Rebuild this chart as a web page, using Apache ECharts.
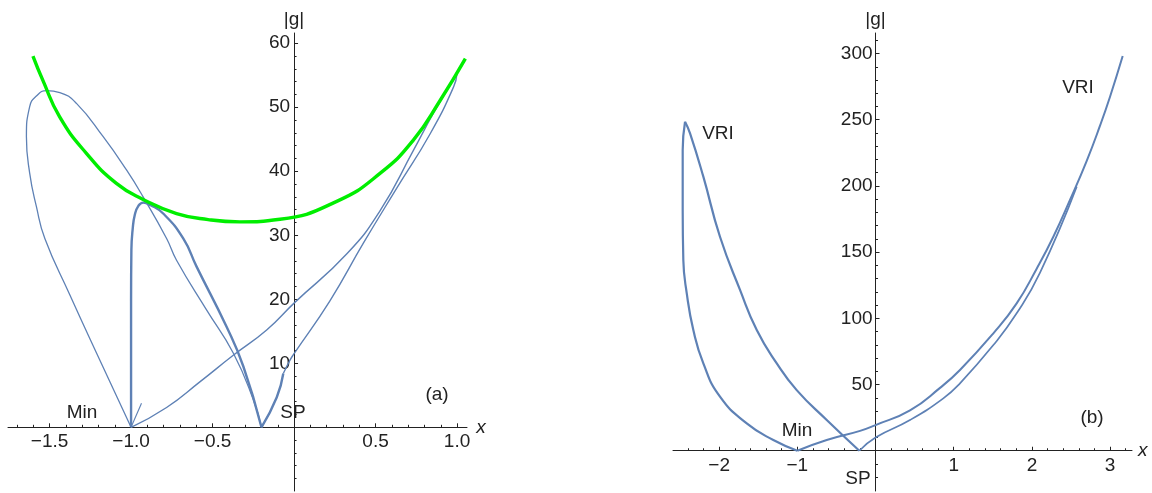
<!DOCTYPE html>
<html>
<head>
<meta charset="utf-8">
<script src="https://cdn.jsdelivr.net/npm/echarts@6.0.0/dist/echarts.min.js"></script>
<style>
html, body { margin: 0; padding: 0; background: #fff; }
#chart { width: 1152px; height: 493px; }
</style>
</head>
<body>
<div id="chart"></div>
<script>
// ---- panel (a) ----
const loopA = [[-1.0, 0], [-1.192, 10.5], [-1.376, 20.7], [-1.529, 29.5], [-1.581, 34.5], [-1.622, 39.7],
  [-1.642, 45.4], [-1.622, 50.1], [-1.579, 51.8], [-1.519, 52.6], [-1.437, 52.3], [-1.335, 50.6],
  [-1.171, 45.4], [-1.028, 40.2], [-0.926, 36.0], [-0.782, 29.5], [-0.721, 26.1], [-0.536, 18.3],
  [-0.373, 11.6], [-0.25, 4.3], [-0.2, 0]];
const archA = [[-1.0, 0], [-1.0, 9.4], [-1.0, 19.8], [-0.998, 27.7], [-0.99, 31.0], [-0.977, 33.2],
  [-0.955, 34.6], [-0.926, 35.1], [-0.88, 34.7], [-0.803, 33.4], [-0.68, 29.5], [-0.598, 25.1],
  [-0.414, 15.7], [-0.311, 9.5], [-0.2, 0]];
const minRightA = [[-1.0, 0], [-0.782, 3.1], [-0.578, 7.1], [-0.373, 11.25], [-0.168, 15.2], [0, 19.4],
  [0.324, 27.1], [0.529, 33.9], [0.733, 43.3], [0.856, 49.1], [1.0, 55.3]];
const spKinkA = [[-0.2, 0], [-0.106, 4.7], [-0.066, 8.4]];
const spRightA = [[-0.066, 8.4], [-0.025, 10.5], [0, 11.5], [0.221, 19.8], [0.426, 28.8], [0.631, 37.4],
  [0.836, 45.9], [0.979, 53.2], [1.0, 55.3]];
const stubA = [[-1.0, 0], [-0.936, 3.75]];
const greenA = [[-1.602, 58.0], [-1.541, 54.2], [-1.438, 48.5], [-1.274, 42.8], [-1.09, 38.1], [-0.926, 35.6],
  [-0.721, 33.4], [-0.527, 32.45], [-0.332, 32.1], [-0.086, 32.5], [0.262, 35.3], [0.529, 39.7],
  [0.733, 44.9], [0.897, 51.1], [1.051, 57.6]];

const xMajorA = [-1.5, -1, -0.5, 0.5, 1];
const xMinorA = [-1.7, -1.6, -1.4, -1.3, -1.2, -1.1, -0.9, -0.8, -0.7, -0.6, -0.4, -0.3, -0.2, -0.1,
  0.1, 0.2, 0.3, 0.4, 0.6, 0.7, 0.8, 0.9];
const yMajorA = [10, 20, 30, 40, 50, 60];
const yMinorA = [-8, -6, -4, -2, 2, 4, 6, 8, 12, 14, 16, 18, 22, 24, 26, 28, 32, 34, 36, 38,
  42, 44, 46, 48, 52, 54, 56, 58];

// ---- panel (b) ----
const loopUpB = [[-1.0, 0], [-1.307, 8.1], [-1.647, 20.7], [-1.989, 40.8], [-2.202, 66.0],
  [-2.33, 91.2], [-2.414, 118.9], [-2.458, 144.0], [-2.466, 181.8], [-2.466, 227.1], [-2.436, 248.5]];
const loopDownB = [[-2.436, 248.5], [-2.372, 239.7], [-2.202, 207.0], [-1.989, 161.6], [-1.733, 121.5],
  [-1.519, 91.2], [-1.263, 66.0], [-1.008, 45.8], [-0.624, 23.2], [-0.207, 0]];
const minRightB = [[-1.0, 0], [-0.624, 8.1], [-0.198, 15.0], [0, 19.4], [0.441, 30.5], [0.825, 47.5],
  [1.08, 61.0], [1.507, 88.7], [1.805, 111.3], [2.061, 137.5], [2.274, 161.6], [2.487, 189.4],
  [2.701, 219.0], [2.871, 245.5], [2.999, 267.4], [3.161, 298.1]];
const spRightB = [[-0.207, 0], [0, 10.0], [0.441, 23.2], [0.867, 39.6], [1.08, 50.9], [1.507, 79.8],
  [1.805, 103.8], [2.104, 134.5], [2.573, 199.5]];

const xMajorB = [-2, -1, 1, 2, 3];
const xMinorB = [-2.4, -2.2, -1.8, -1.6, -1.4, -1.2, -0.8, -0.6, -0.4, -0.2, 0.2, 0.4, 0.6, 0.8,
  1.2, 1.4, 1.6, 1.8, 2.2, 2.4, 2.6, 2.8, 3.2];
const yMajorB = [50, 100, 150, 200, 250, 300];
const yMinorB = [-20, -10, 10, 20, 30, 40, 60, 70, 80, 90, 110, 120, 130, 140, 160, 170, 180, 190,
  210, 220, 230, 240, 260, 270, 280, 290, 310];

const BLUE = '#5e81b5';
const GREEN = '#00ee00';
const INK = '#222222';
const FONT = '"Liberation Sans", Arial, sans-serif';

// plot boxes and axis ranges of the two panels
const panels = [
  { left: 8, top: 33, width: 459, height: 458, xMin: -1.755, xMax: 1.061, yMin: -9.95, yMax: 61.6 },
  { left: 673, top: 33, width: 459, height: 458, xMin: -2.59, xMax: 3.28, yMin: -30.4, yMax: 315.5 }
];

function signed(v, digits) {
  const s = Math.abs(v).toFixed(digits);
  return v < 0 ? '\u2212' + s : s;
}

// axes cross at the origin: shift each axis from the box edge to the zero line
function xOffset(p) { return -(0 - p.yMin) / (p.yMax - p.yMin) * p.height; }
function yOffset(p) { return -(0 - p.xMin) / (p.xMax - p.xMin) * p.width; }

function axis(o) {
  return {
    type: 'value', gridIndex: o.grid, min: o.min, max: o.max, position: o.position, offset: o.offset,
    splitLine: { show: false },
    axisLine: { show: !!o.line, onZero: false, lineStyle: { color: INK, width: 1 } },
    axisTick: { show: true, inside: true, length: o.tickLen, customValues: o.ticks, lineStyle: { color: INK, width: 1 } },
    axisLabel: o.fmt ? {
      show: true, customValues: o.ticks, margin: o.margin, formatter: o.fmt,
      color: INK, fontSize: 19, fontFamily: FONT
    } : { show: false },
    name: o.name || '', nameLocation: 'end', nameGap: o.nameGap || 0,
    nameTextStyle: { color: INK, fontSize: 19, fontFamily: FONT, fontStyle: o.italic ? 'italic' : 'normal' },
    silent: true
  };
}

function xAxes(g, major, minor, digits, margin, nameGap) {
  const p = panels[g];
  return [
    axis({ grid: g, min: p.xMin, max: p.xMax, position: 'bottom', offset: xOffset(p), line: true, tickLen: 4,
      ticks: major, margin: margin, fmt: v => signed(v, digits), name: 'x', nameGap: nameGap, italic: true }),
    axis({ grid: g, min: p.xMin, max: p.xMax, position: 'bottom', offset: xOffset(p), tickLen: 2.5, ticks: minor })
  ];
}

function yAxes(g, major, minor, margin) {
  const p = panels[g];
  return [
    axis({ grid: g, min: p.yMin, max: p.yMax, position: 'left', offset: yOffset(p), line: true, tickLen: 4,
      ticks: major, margin: margin, fmt: v => String(v), name: '|g|', nameGap: 4 }),
    axis({ grid: g, min: p.yMin, max: p.yMax, position: 'left', offset: yOffset(p), tickLen: 2.5, ticks: minor })
  ];
}

function curve(data, xi, yi, width, color, z) {
  return {
    type: 'line', data: data, xAxisIndex: xi, yAxisIndex: yi, symbol: 'none', showSymbol: false,
    smooth: 0.5, lineStyle: { color: color, width: width }, z: z || 2, silent: true
  };
}

function note(text, x, y) {
  return { type: 'text', x: x, y: y, style: { text: text, fill: INK, font: '19px ' + FONT, align: 'center', verticalAlign: 'middle' } };
}

const chart = echarts.init(document.getElementById('chart'), null, { renderer: 'canvas' });
chart.setOption({
  animation: false,
  backgroundColor: '#ffffff',
  grid: panels.map(p => ({ left: p.left, top: p.top, width: p.width, height: p.height, containLabel: false, outerBoundsMode: 'none' })),
  xAxis: xAxes(0, xMajorA, xMinorA, 1, 5, 3).concat(xAxes(1, xMajorB, xMinorB, 0, 6, 6)),
  yAxis: yAxes(0, yMajorA, yMinorA, 4).concat(yAxes(1, yMajorB, yMinorB, 3)),
  series: [
    curve(loopA, 0, 0, 1.3, BLUE),
    curve(archA, 0, 0, 2.4, BLUE),
    curve(minRightA, 0, 0, 1.4, BLUE),
    curve(spKinkA, 0, 0, 2.4, BLUE),
    curve(spRightA, 0, 0, 1.4, BLUE),
    curve(stubA, 0, 0, 1.1, BLUE),
    curve(greenA, 0, 0, 3.4, GREEN, 5),
    curve(loopUpB, 2, 2, 2.2, BLUE),
    curve(loopDownB, 2, 2, 2.2, BLUE),
    curve(minRightB, 2, 2, 2.0, BLUE),
    curve(spRightB, 2, 2, 1.7, BLUE)
  ],
  graphic: [
    note('Min', 82, 413), note('SP', 293, 413), note('(a)', 437, 395),
    note('VRI', 718, 134), note('VRI', 1078, 88), note('Min', 797, 431),
    note('SP', 858, 479), note('(b)', 1092, 418)
  ]
});
</script>
</body>
</html>
